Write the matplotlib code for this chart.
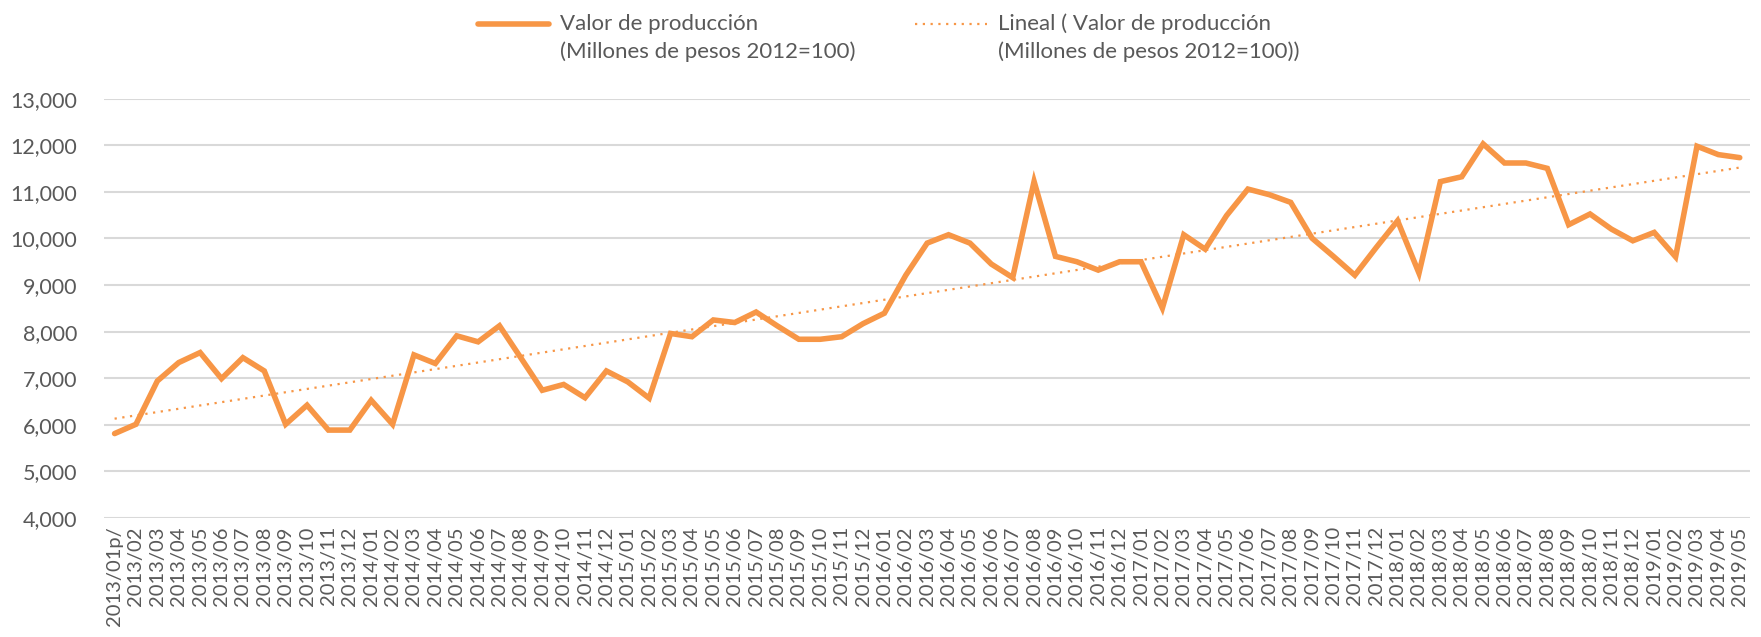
import matplotlib
matplotlib.use("Agg")
import matplotlib.pyplot as plt
import matplotlib.transforms as mtransforms
import numpy as np

plt.rcParams['font.family'] = ['Lato', 'DejaVu Sans']

years_months = []
for y in range(2013, 2020):
    for m in range(1, 13):
        if y == 2019 and m > 5:
            break
        years_months.append(f"{y}/{m:02d}")
labels = list(years_months)
labels[0] = "2013/01p/"

values = [5810, 6010, 6940, 7335, 7550, 6990, 7440, 7155, 6010, 6420, 5885, 5885,
          6525, 6010, 7500, 7315, 7910, 7780, 8125, 7435, 6740, 6865, 6580, 7155,
          6920, 6570, 7960, 7890, 8250, 8195, 8420, 8120, 7835, 7835, 7890, 8170,
          8395, 9210, 9900, 10080, 9900, 9450, 9160, 11225, 9615, 9500, 9320, 9500,
          9500, 8505, 10080, 9770, 10490, 11060, 10940, 10775, 10005, 9615, 9210, 9805,
          10380, 9255, 11220, 11325, 12030, 11620, 11620, 11505, 10295, 10525, 10200, 9950,
          10130, 9605, 11980, 11800, 11735]

series_label = "Valor de producción\n(Millones de pesos 2012=100)"
trend_label = "Lineal ( Valor de producción\n(Millones de pesos 2012=100))"

orange = "#F79646"
text_gray = "#595959"

fig = plt.figure(figsize=(17.61, 6.37), dpi=100)
ax = fig.add_axes([0.059, 0.187, 0.935, 0.658])

x = np.arange(len(values))
ax.plot(x, values, color=orange, lw=4.0, solid_joinstyle='miter', solid_capstyle='round',
        label=series_label, zorder=3)
coef = np.polyfit(x, values, 1)
ax.plot(x, np.polyval(coef, x), color=orange, lw=1.6, linestyle=(0, (1.0, 2.5)),
        label=trend_label, zorder=2)

ax.set_xlim(-0.5, len(values) - 0.5)
ax.set_ylim(4000, 13000)
ax.set_yticks(np.arange(4000, 13001, 1000))
ax.set_yticklabels([f"{v:,}" for v in range(4000, 13001, 1000)], fontsize=15.5, color=text_gray)
ax.set_xticks(x)
ax.set_xticklabels(labels, rotation=90, fontsize=14.5, color=text_gray)
ax.tick_params(axis='both', length=0)
ax.tick_params(axis='x', pad=6)
ax.tick_params(axis='y', pad=19)
ax.grid(axis='y', color='#D9D9D9', lw=1.5)
ax.set_axisbelow(True)
for s in ax.spines.values():
    s.set_visible(False)

leg = fig.legend(loc='upper center', bbox_to_anchor=(0.5045, 1.01), ncol=2, frameon=False,
                 fontsize=16, handlelength=3.2, columnspacing=2.7, handletextpad=0.5)
for t in leg.get_texts():
    t.set_color(text_gray)
    t.set_linespacing(1.45)
# place the legend handles beside the first line of each two-line label
shift = mtransforms.ScaledTranslation(0, 0.145, fig.dpi_scale_trans)
for h in leg.legend_handles:
    h.set_transform(h.get_transform() + shift)

fig.savefig("out.png", dpi=100, facecolor='white')
